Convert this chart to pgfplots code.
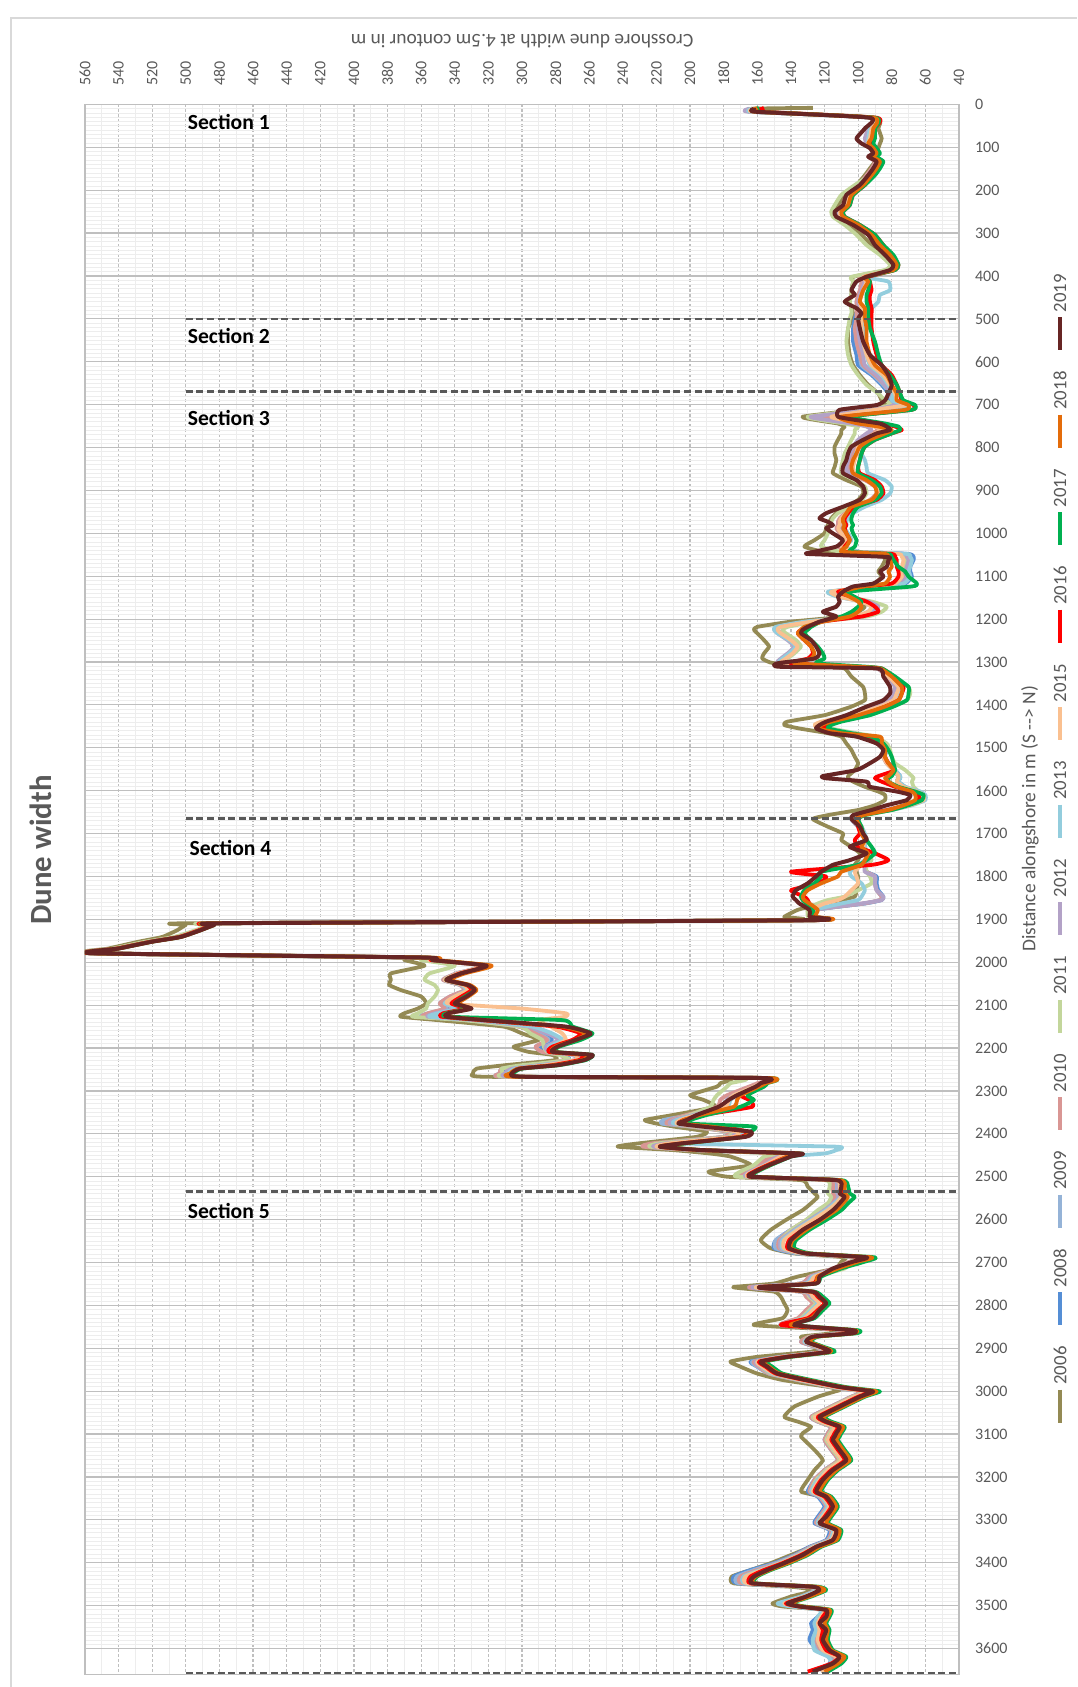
\documentclass[border=0pt]{standalone}
\usepackage{fontspec}
\setmainfont{Carlito}
\usepackage{pgfplots}
\usepackage{pgfplotstable}
\pgfplotsset{compat=1.18}
\definecolor{c06}{HTML}{948A54}
\definecolor{c08}{HTML}{558ED5}
\definecolor{c09}{HTML}{95B3D7}
\definecolor{c10}{HTML}{D99694}
\definecolor{c11}{HTML}{C3D69B}
\definecolor{c12}{HTML}{B3A2C7}
\definecolor{c13}{HTML}{93CDDD}
\definecolor{c15}{HTML}{FAC090}
\definecolor{c16}{HTML}{FF0000}
\definecolor{c17}{HTML}{00B050}
\definecolor{c18}{HTML}{E46C0A}
\definecolor{c19}{HTML}{672524}
\definecolor{txt}{HTML}{595959}
\definecolor{gridc}{HTML}{BFBFBF}
\definecolor{gridm}{HTML}{EDEDED}

\pgfplotstableread{
d a b c e f g h i j k l m
8 127 163 164 162 163 165 163 162 156 159 160 162
10 163 163 164 162 163 165 163 162 157 160 161 162
17 163 163 164 162 163 165 163 162 158 160 161 161
31 90 92 92 92 91 92 92 91 89 90 91 93
56 88 93 93 94 92 94 93 92 90 90 91 96
79 86 93 94 95 92 96 94 93 91 90 92 101
91 87 94 94 95 93 95 94 94 92 91 94 98
102 88 92 92 93 91 92 92 92 90 89 91 93
114 90 90 90 91 89 90 90 90 88 87 89 91
122 91 93 93 94 92 93 92 92 90 89 91 94
133 90 89 89 90 88 89 88 88 86 85 87 89
149 93 91 91 92 90 91 90 90 88 87 89 91
165 96 94 94 95 93 94 93 93 91 90 92 94
188 101 99 99 100 102 99 98 98 96 96 97 99
211 108 106 106 107 110 106 105 105 103 103 104 107
235 112 108 108 109 114 108 107 107 105 105 106 109
250 115 112 112 113 116 112 111 111 109 109 110 114
262 114 111 111 112 115 111 110 110 108 108 109 113
281 106 102 102 103 108 102 101 101 99 99 100 103
304 98 93 93 94 101 92 91 91 90 90 92 94
328 92 88 88 89 95 87 86 86 85 85 87 90
351 85 82 82 83 87 81 80 81 80 79 81 84
374 80 78 78 79 81 77 77 78 76 76 77 79
386 83 80 80 81 84 80 79 80 78 78 79 81
402 103 98 99 99 104 97 96 97 94 95 96 95
413 103 96 97 98 103 96 82 95 93 93 94 101
433 104 97 98 99 104 98 81 97 92 94 97 104
444 104 98 99 100 104 99 87 98 93 95 98 102
460 105 100 101 101 105 100 88 99 93 95 99 108
475 104 100 100 101 104 99 92 98 92 94 96 101
487 103 101 100 101 104 99 96 98 92 94 96 98
499 103 102 100 101 105 99 96 98 92 94 96 100
522 106 103 101 102 106 100 97 98 92 93 95 99
553 106 103 101 101 107 99 97 97 91 90 95 97
584 105 101 99 99 106 97 95 95 89 88 93 93
608 103 100 98 97 104 96 93 92 86 86 90 86
631 99 92 91 90 100 89 86 85 80 81 83 82
654 94 86 85 84 95 84 82 81 77 77 80 80
674 88 82 81 80 88 80 79 78 75 75 77 82
690 86 82 80 79 84 80 80 77 74 73 77 84
701 82 76 74 73 80 78 72 72 67 66 70 89
712 100 80 78 76 98 92 76 90 68 68 72 111
728 133 115 117 120 130 128 113 116 108 106 110 112
736 125 106 108 110 122 118 104 108 98 96 108 101
744 112 95 96 98 108 104 94 98 86 84 100 87
751 108 88 89 90 100 95 86 90 78 76 88 83
759 110 86 88 88 102 92 84 86 74 75 80 81
767 110 90 91 92 102 95 88 90 80 80 84 89
782 112 96 97 98 104 100 93 96 90 90 93 97
798 114 100 101 102 106 103 97 100 96 96 99 104
814 114 102 103 104 108 105 98 101 98 98 101 106
829 113 103 104 105 109 106 96 102 99 99 103 107
845 114 104 105 106 110 107 95 103 100 100 104 109
860 115 104 105 106 110 106 94 102 99 100 103 109
876 107 95 94 96 102 94 84 94 90 92 95 101
891 98 89 88 90 96 87 80 88 86 87 90 97
907 97 88 86 89 95 86 81 87 85 86 89 96
922 100 92 90 93 98 90 86 91 89 90 92 99
938 106 100 98 101 105 98 96 100 102 100 104 109
953 113 106 105 108 112 105 103 107 106 103 107 119
965 116 109 108 111 115 108 106 110 108 104 109 123
973 117 110 109 112 116 109 107 111 108 104 109 118
981 118 110 109 112 117 109 107 111 107 103 108 115
988 119 111 110 113 118 110 108 112 108 104 109 119
1000 120 109 108 111 118 108 106 110 107 103 107 115
1016 126 106 106 108 120 106 104 107 105 101 105 109
1031 132 110 109 112 122 110 108 110 108 102 107 113
1043 120 100 100 102 110 101 100 102 108 105 110 126
1048 95 70 71 74 76 73 71 76 80 82 84 130
1055 85 67 69 72 72 71 69 74 78 80 82 83
1062 84 67 69 72 71 70 68 73 77 79 81 82
1078 86 69 70 73 73 71 69 74 77 76 80 83
1089 88 69 70 74 75 72 70 75 76 72 82 87
1101 86 68 69 73 74 71 69 74 76 70 81 85
1117 90 72 73 76 78 75 73 78 80 65 84 91
1124 95 85 86 88 90 87 86 90 96 68 97 103
1136 108 116 117 115 110 114 118 116 112 106 110 109
1148 105 110 111 110 106 108 112 111 104 102 105 112
1159 100 96 97 98 92 94 98 98 95 98 100 111
1171 96 90 91 92 83 88 92 92 90 100 98 113
1183 100 92 93 94 86 90 94 94 88 104 100 121
1194 108 100 101 102 95 98 102 103 98 110 105 113
1206 140 128 129 130 125 130 132 128 122 122 121 123
1218 160 146 147 148 142 148 149 146 130 128 132 130
1225 162 148 149 149 145 150 150 148 134 130 134 133
1233 160 146 147 147 143 148 148 146 136 132 136 134
1249 156 140 141 141 137 142 141 140 132 128 132 128
1264 153 136 137 137 134 138 137 136 128 124 128 125
1280 156 140 141 140 138 142 141 139 127 121 126 123
1292 157 144 145 143 142 146 145 143 130 120 128 126
1303 150 146 146 145 144 147 146 145 140 125 138 148
1311 118 108 109 110 108 110 109 108 100 95 100 147
1315 108 88 88 89 88 89 88 88 86 86 87 89
1334 104 82 82 83 80 82 81 82 79 78 80 85
1358 97 77 78 77 70 78 75 76 73 70 74 81
1373 96 78 79 78 69 79 76 77 74 70 74 81
1389 96 80 81 80 71 81 78 79 76 71 76 85
1404 104 88 89 88 80 89 86 87 84 79 84 95
1424 120 104 105 103 98 105 102 104 98 93 100 107
1439 142 118 119 117 114 119 117 122 114 110 116 119
1447 144 122 123 121 118 123 121 126 119 116 122 123
1455 135 120 121 119 116 121 119 122 121 118 124 125
1466 118 104 105 104 101 105 103 106 108 104 110 117
1474 110 94 95 94 90 95 93 95 96 92 87 101
1490 107 86 87 86 83 87 86 87 88 85 86 89
1505 104 84 84 84 81 84 83 84 84 82 84 85
1521 102 85 85 85 80 85 84 85 84 80 84 87
1536 100 82 83 83 78 83 82 83 82 79 82 93
1552 102 78 79 79 72 79 78 79 78 78 79 101
1566 106 75 76 76 68 76 75 76 88 80 82 121
1571 106 75 76 76 67 76 75 76 90 82 84 119
1579 103 76 77 77 68 77 76 77 86 82 82 95
1591 96 72 73 73 67 73 72 73 78 76 77 93
1602 88 66 67 67 64 67 63 65 68 66 68 77
1610 84 62 64 64 62 64 60 61 64 61 66 69
1622 84 62 64 64 62 64 60 61 64 62 66 71
1634 90 70 71 71 69 71 68 69 72 70 73 83
1645 100 82 83 83 80 83 80 81 82 80 82 92
1657 118 100 101 101 97 101 98 99 98 96 97 103
1666 127 104 104 104 102 104 102 102 101 100 101 104
1684 118 100 100 100 98 100 98 98 100 98 99 99
1700 109 98 98 98 97 98 96 97 99 97 98 97
1715 110 96 96 96 96 96 95 96 102 95 96 95
1731 104 98 98 98 97 98 96 97 100 92 98 105
1746 99 96 96 96 94 96 94 95 90 90 94 95
1762 100 94 94 94 92 94 96 95 82 95 96 105
1773 102 96 96 96 95 96 100 98 92 100 98 115
1789 101 95 95 95 95 96 105 102 140 122 110 122
1800 100 89 90 90 93 90 104 101 119 122 112 125
1816 100 89 90 90 92 90 98 100 124 126 122 130
1832 101 88 89 89 100 89 96 104 140 132 130 137
1847 102 85 86 86 108 85 98 108 132 134 133 139
1855 110 86 87 87 118 86 100 112 130 133 132 137
1863 122 96 96 97 124 98 110 120 129 131 129 135
1878 136 126 126 127 130 127 126 128 127 127 124 129
1894 144 128 128 128 130 128 128 128 127 127 126 129
1902 145 130 130 130 131 130 130 130 129 129 128 130
1909 496 478 478 478 480 478 478 478 478 477 477 476
1913 500 484 484 484 486 484 484 484 484 483 483 483
1925 505 492 492 492 494 492 492 492 492 491 491 491
1941 514 504 504 504 507 504 504 504 504 503 503 503
1952 528 521 521 521 524 521 521 521 521 520 520 520
1968 546 541 541 541 543 541 541 541 541 540 540 540
1979 559 556 556 556 557 556 556 556 556 555 555 555
1989 372 362 362 362 366 362 362 362 360 359 357 359
1995 370 355 355 355 360 355 355 355 354 353 351 353
2008 358 322 323 323 340 322 322 323 321 320 318 321
2026 378 338 339 339 355 338 338 338 337 336 334 336
2041 378 346 347 347 358 346 346 346 345 345 343 345
2053 379 336 337 337 352 336 336 335 333 332 331 332
2065 372 333 334 334 350 333 333 332 330 328 327 328
2080 360 342 343 343 352 340 340 340 336 334 332 333
2096 357 348 349 349 356 346 346 344 342 340 338 340
2108 362 344 345 346 357 340 338 300 334 332 331 330
2119 370 355 356 356 362 352 350 274 347 345 344 344
2127 372 360 360 359 365 356 355 274 348 344 345 345
2135 350 330 332 332 335 328 326 290 324 276 322 322
2150 311 300 302 302 301 296 294 283 280 270 276 274
2166 300 288 290 292 295 285 282 276 265 258 262 259
2181 290 282 284 285 288 278 276 274 270 265 268 268
2197 305 290 292 292 287 286 284 281 282 278 280 279
2209 296 286 288 288 285 284 282 280 284 280 282 282
2216 282 275 277 277 278 270 268 268 264 258 260 258
2228 280 272 274 275 272 268 266 268 266 262 264 263
2240 310 292 294 295 300 290 288 286 282 278 280 279
2248 327 310 312 312 312 306 304 302 302 300 302 301
2259 329 312 313 313 311 310 308 307 306 305 307 306
2267 322 308 309 309 308 304 302 302 300 299 303 298
2270 180 156 156 157 170 156 156 156 154 153 153 156
2282 182 158 158 160 176 158 158 158 156 154 155 158
2290 184 162 162 165 178 162 161 162 159 156 159 161
2310 200 174 174 178 184 174 172 174 170 166 170 172
2321 192 178 178 182 186 178 176 177 165 162 172 177
2337 185 180 181 184 188 180 178 179 163 170 174 183
2356 210 198 200 202 200 198 196 196 192 190 194 196
2368 227 214 216 212 210 210 208 206 204 200 204 202
2376 220 216 217 214 212 212 210 208 206 202 206 207
2383 210 198 200 200 198 196 192 194 182 162 188 193
2395 190 176 178 178 176 174 170 172 166 164 166 164
2407 196 178 180 180 178 176 172 174 170 168 168 167
2422 230 218 220 222 218 214 208 212 204 202 204 204
2430 243 226 226 228 224 222 113 220 218 216 218 218
2438 210 196 196 198 196 194 113 194 193 192 193 193
2446 188 144 144 146 150 142 120 140 136 134 135 134
2453 176 150 150 152 156 148 142 146 142 140 142 140
2473 164 158 158 160 162 156 155 155 154 152 153 153
2488 189 166 166 168 170 164 163 163 162 160 161 161
2500 178 168 168 170 172 166 165 165 164 162 163 164
2508 134 116 116 118 120 115 114 114 112 110 111 113
2523 130 113 113 115 117 112 111 111 109 106 108 110
2539 126 113 113 115 118 112 111 111 109 105 108 111
2547 124 112 112 114 116 111 110 110 107 102 106 108
2562 128 116 116 118 118 115 114 113 110 106 109 111
2578 133 121 121 123 124 120 119 118 114 110 113 115
2601 143 130 130 131 131 129 128 127 123 119 122 123
2624 152 140 140 140 140 138 137 136 133 129 131 133
2648 158 149 149 147 146 146 145 144 141 137 139 140
2667 152 150 149 147 146 146 145 144 142 138 140 141
2679 138 136 135 134 134 133 132 132 130 128 130 131
2688 108 98 98 99 100 97 96 96 95 90 92 95
2698 110 104 104 105 104 103 102 102 102 96 100 103
2714 114 114 114 115 108 114 113 113 113 110 112 115
2733 136 128 128 129 125 128 127 126 124 122 124 123
2749 150 134 134 134 130 132 131 130 127 125 126 125
2757 174 164 163 164 160 162 160 160 158 156 157 158
2760 170 162 161 162 158 160 158 158 156 154 155 156
2768 150 134 134 134 132 132 130 130 128 126 127 127
2780 146 130 130 131 129 128 127 127 124 121 123 123
2795 144 126 126 127 125 124 124 123 120 117 119 119
2811 142 130 130 131 129 128 128 127 124 121 123 123
2830 145 135 135 136 134 133 133 132 130 126 128 127
2846 162 146 146 146 144 144 143 142 146 138 140 138
2858 108 106 106 106 104 105 104 104 103 100 102 103
2865 115 108 108 108 106 107 106 106 104 101 103 103
2873 134 128 128 129 128 127 126 126 126 124 125 127
2885 130 134 134 134 132 132 132 131 130 128 129 131
2896 122 126 126 126 125 125 124 124 123 121 122 123
2908 128 120 120 120 119 119 118 118 117 114 116 117
2920 160 146 146 146 145 145 144 144 143 140 142 142
2931 176 164 163 162 160 161 160 160 159 155 157 158
2943 170 160 160 159 158 158 157 157 155 151 153 154
2959 160 153 153 153 152 151 151 150 149 145 147 148
2974 145 136 136 136 135 134 134 134 132 128 130 131
2990 118 116 116 116 115 114 114 114 112 108 110 111
2997 111 104 104 104 103 102 102 102 99 94 96 98
3001 114 96 96 96 95 94 94 94 92 87 89 91
3013 124 104 104 104 103 102 102 102 100 96 97 99
3036 138 116 116 116 115 114 114 114 112 108 109 111
3060 144 128 128 128 127 126 126 126 124 120 121 123
3071 136 124 124 124 123 122 122 122 120 116 118 119
3083 128 116 116 116 115 114 114 114 112 108 109 111
3098 133 118 118 118 117 116 116 116 114 110 111 113
3106 134 119 119 119 118 117 117 117 115 111 112 114
3114 132 120 120 120 119 118 118 118 116 112 113 115
3137 126 116 116 116 115 114 114 114 112 108 109 111
3161 121 112 112 112 111 110 110 110 108 104 105 107
3184 126 120 120 120 119 118 118 118 116 112 113 115
3207 130 126 126 126 125 124 124 123 122 118 119 121
3234 134 130 129 129 128 128 128 127 126 122 123 125
3246 122 124 123 123 122 122 122 121 120 116 117 119
3269 118 120 119 119 118 118 118 117 116 112 113 115
3293 120 124 123 123 122 122 122 121 120 116 117 119
3308 122 126 125 125 124 124 124 123 122 118 119 123
3324 116 117 116 116 115 115 115 114 113 110 111 113
3347 118 119 118 118 117 117 117 116 115 112 113 115
3363 128 129 128 128 127 127 127 126 125 122 123 125
3382 140 138 137 137 136 136 136 135 134 130 131 133
3401 152 150 149 148 147 147 147 146 145 141 142 144
3417 164 164 162 160 158 158 158 157 156 152 153 154
3432 175 174 172 170 168 168 168 167 164 160 161 162
3448 174 172 171 169 167 167 167 166 164 161 162 163
3456 140 130 130 130 129 129 129 128 127 124 125 127
3464 126 125 125 125 124 124 124 123 122 119 120 123
3479 140 134 134 134 133 133 134 132 131 128 129 131
3495 151 146 146 146 145 145 148 144 143 140 141 142
3502 145 138 138 138 137 137 140 136 135 132 133 135
3510 120 121 121 121 120 120 122 120 119 116 117 119
3526 122 124 123 123 122 122 124 122 121 117 118 119
3541 124 128 126 125 124 124 126 124 123 119 120 123
3557 122 127 125 124 123 123 125 123 121 117 118 119
3580 123 129 127 125 124 124 127 124 122 118 119 121
3604 120 124 123 122 121 121 126 121 119 115 116 117
3619 113 116 115 114 113 113 118 113 111 107 108 111
3635 116 117 116 115 114 114 116 114 116 110 112 115
3654 122 122 122 122 122 122 122 122 130 118 120 127
}\dunes

\begin{document}
\begin{tikzpicture}
\useasboundingbox (0,0) rectangle (538.5pt,-843.5pt);
\draw[color=black!15, line width=0.8pt] (5.5pt,-843.5pt) -- (5.5pt,-9pt) -- (538.5pt,-9pt);
\begin{axis}[
  at={(42.5pt,-52.2pt)}, anchor=north west,
  scale only axis, width=437pt, height=784.9pt,
  x dir=reverse, y dir=reverse,
  xmin=40, xmax=560, ymin=0, ymax=3660,
  xtick={40,60,...,560}, ytick={0,100,...,3600},
  minor x tick num=1, minor y tick num=9,
  xmajorgrids, ymajorgrids, xminorgrids, yminorgrids,
  major x grid style={gridc, line width=0.6pt, dash pattern=on 1.5pt off 1pt},
  minor x grid style={gridm, line width=0.4pt},
  major y grid style={gridc, line width=0.6pt},
  minor y grid style={gridm, line width=0.4pt},
  major tick length=0pt, minor tick length=0pt,
  axis line style={gridc, line width=0.7pt},
  tick label style={font=\fontsize{8}{9}\selectfont, color=txt},
  /pgf/number format/assume math mode=true,
  /pgf/number format/1000 sep={},
  xticklabel pos=upper,
  yticklabel pos=right,
  xticklabel style={rotate=90, anchor=west},
  xticklabel shift=6pt,
  yticklabel style={anchor=west},
  yticklabel shift=4.5pt,
  every axis plot/.append style={line width=1.9pt, line join=round, smooth, tension=0.3},
]
\addplot[c06] table[x=a, y=d]{\dunes};
\addplot[c08] table[x=b, y=d]{\dunes};
\addplot[c09] table[x=c, y=d]{\dunes};
\addplot[c10] table[x=e, y=d]{\dunes};
\addplot[c11] table[x=f, y=d]{\dunes};
\addplot[c12] table[x=g, y=d]{\dunes};
\addplot[c13] table[x=h, y=d]{\dunes};
\addplot[c15] table[x=i, y=d]{\dunes};
\addplot[c16] table[x=j, y=d]{\dunes};
\addplot[c17] table[x=k, y=d]{\dunes};
\addplot[c18] table[x=l, y=d]{\dunes};
\addplot[c19, line width=2pt] table[x=m, y=d]{\dunes};
\pgfplotsinvokeforeach{500,670,1665,2535,3657}{
  \draw[txt, line width=1.3pt, dash pattern=on 3.5pt off 1.8pt] (axis cs:500,#1) -- (axis cs:40,#1);
}
\node[anchor=west, inner sep=0pt, font=\bfseries\fontsize{10.8}{12}\selectfont] at (axis cs:499,40) {Section 1};
\node[anchor=west, inner sep=0pt, font=\bfseries\fontsize{10.8}{12}\selectfont] at (axis cs:499,539) {Section 2};
\node[anchor=west, inner sep=0pt, font=\bfseries\fontsize{10.8}{12}\selectfont] at (axis cs:499,730) {Section 3};
\node[anchor=west, inner sep=0pt, font=\bfseries\fontsize{10.8}{12}\selectfont] at (axis cs:498,1733) {Section 4};
\node[anchor=west, inner sep=0pt, font=\bfseries\fontsize{10.8}{12}\selectfont] at (axis cs:499,2579) {Section 5};
\end{axis}
\node[rotate=90, inner sep=0pt, text=txt, font=\bfseries\fontsize{15.4}{18}\selectfont] at (20.5pt,-425pt) {Dune width};
\node[rotate=180, inner sep=0pt, text=txt, font=\fontsize{9.7}{11}\selectfont] at (261pt,-20.5pt) {Crosshore dune width at 4.5m contour in m};
\node[rotate=90, inner sep=0pt, text=txt, font=\fontsize{9.7}{11}\selectfont] at (515pt,-409.3pt) {Distance alongshore in m (S {-}{-}> N)};
\foreach \yr/\col [count=\i from 0] in {2019/c19,2018/c18,2017/c17,2016/c16,2015/c15,2013/c13,2012/c12,2011/c11,2010/c10,2009/c09,2008/c08,2006/c06} {
  \node[rotate=90, inner sep=0pt, text=txt, font=\fontsize{9.4}{11}\selectfont] at (530pt,{-(146.5+48.75*\i)*1pt}) {\yr};
  \draw[\col, line width=2pt] (530pt,{-(158.5+48.75*\i)*1pt}) -- (530pt,{-(175+48.75*\i)*1pt});
}
\end{tikzpicture}
\end{document}
